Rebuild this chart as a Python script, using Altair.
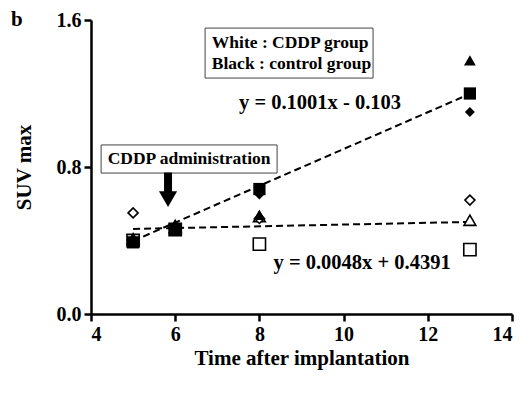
import altair as alt
import pandas as pd

# Data
days = [5, 6, 8, 13]
ctrl_square = [0.39, 0.46, 0.68, 1.20]
ctrl_triangle = [0.41, 0.49, 0.54, 1.38]
ctrl_diamond = [0.40, 0.47, 0.65, 1.10]
cddp_square = [0.40, 0.46, 0.38, 0.35]
cddp_triangle = [0.41, 0.47, 0.53, 0.51]
cddp_diamond = [0.55, 0.47, 0.52, 0.62]

fit_x = [5, 13]
fit_ctrl = [0.3975, 1.198]
fit_cddp = [0.463, 0.501]

x_ticks = [4, 6, 8, 10, 12, 14]
y_ticks = [0.0, 0.8, 1.6]

FONT = "Liberation Serif"

xs = alt.Scale(domain=[4, 14], nice=False)
ys = alt.Scale(domain=[0, 1.6], nice=False)

def pts(vals, shape):
    return pd.DataFrame({"x": days, "y": vals, "shape": shape})

X = alt.X("x:Q", scale=xs, axis=alt.Axis(values=x_ticks, format="d", title="Time after implantation", titlePadding=3))
Y = alt.Y("y:Q", scale=ys, axis=alt.Axis(values=y_ticks, format=".1f", title="SUV max", titlePadding=22))

layers = []
# fit lines
fit_df = pd.DataFrame({"x": fit_x * 2, "y": fit_ctrl + fit_cddp, "g": ["c"] * 2 + ["d"] * 2})
layers.append(alt.Chart(fit_df).mark_line(color="black", strokeWidth=2, strokeDash=[7, 4]).encode(x=X, y=Y, detail="g:N"))

shape_map = {"square": "square", "triangle": "triangle-up", "diamond": "diamond"}
sizes = {"square": 150, "triangle": 140, "diamond": 100}
for vals, sh in [(cddp_square, "square"), (cddp_triangle, "triangle"), (cddp_diamond, "diamond")]:
    layers.append(alt.Chart(pts(vals, sh)).mark_point(shape=shape_map[sh], size=sizes[sh], filled=True, fill="white", stroke="black", strokeWidth=1.6, opacity=1).encode(x=X, y=Y))
for vals, sh in [(ctrl_square, "square"), (ctrl_triangle, "triangle"), (ctrl_diamond, "diamond")]:
    layers.append(alt.Chart(pts(vals, sh)).mark_point(shape=shape_map[sh], size=sizes[sh], filled=True, color="black", opacity=1).encode(x=X, y=Y))

# annotation boxes
box_df = pd.DataFrame({"x": [6.71, 4.24], "x2": [10.70, 8.42], "y": [1.556, 0.92], "y2": [1.284, 0.767]})
layers.append(alt.Chart(box_df).mark_rect(fill="white", stroke="#444", strokeWidth=1).encode(x=alt.X("x:Q", scale=xs), x2="x2", y=alt.Y("y:Q", scale=ys), y2="y2"))

txt_left = pd.DataFrame({"x": [6.87, 6.87], "y": [1.475, 1.36], "t": ["White : CDDP group", "Black : control group"]})
layers.append(alt.Chart(txt_left).mark_text(align="left", baseline="middle", font=FONT, fontWeight="bold", fontSize=17.5, color="black").encode(x=alt.X("x:Q", scale=xs), y=alt.Y("y:Q", scale=ys), text="t"))

txt_a = pd.DataFrame({"x": [6.33], "y": [0.843], "t": ["CDDP administration"]})
layers.append(alt.Chart(txt_a).mark_text(align="center", baseline="middle", font=FONT, fontWeight="bold", fontSize=17.5, color="black").encode(x=alt.X("x:Q", scale=xs), y=alt.Y("y:Q", scale=ys), text="t"))

txt_eq = pd.DataFrame({"x": [9.44, 10.44], "y": [1.148, 0.278], "t": ["y = 0.1001x - 0.103", "y = 0.0048x + 0.4391"]})
layers.append(alt.Chart(txt_eq).mark_text(align="center", baseline="middle", font=FONT, fontWeight="bold", fontSize=20.5, color="black").encode(x=alt.X("x:Q", scale=xs), y=alt.Y("y:Q", scale=ys), text="t"))

# arrow
arrow_df = pd.DataFrame({"x": [5.83], "y": [0.77], "y2": [0.66]})
layers.append(alt.Chart(arrow_df).mark_rule(color="black", strokeWidth=8).encode(x=alt.X("x:Q", scale=xs), y=alt.Y("y:Q", scale=ys), y2="y2"))
head_df = pd.DataFrame({"x": [5.83], "y": [0.625]})
layers.append(alt.Chart(head_df).mark_point(shape="triangle-down", size=330, filled=True, color="black", opacity=1).encode(x=alt.X("x:Q", scale=xs), y=alt.Y("y:Q", scale=ys)))

# panel letter
b_df = pd.DataFrame({"x": [2.24], "y": [1.6], "t": ["b"]})
layers.append(alt.Chart(b_df).mark_text(align="center", baseline="middle", font=FONT, fontWeight="bold", fontSize=21, color="black").encode(x=alt.X("x:Q", scale=xs), y=alt.Y("y:Q", scale=ys), text="t"))

chart = alt.layer(*layers).properties(
    width=421, height=294,
    autosize=alt.AutoSizeParams(type="none"),
    padding={"left": 83, "top": 12, "right": 9, "bottom": 70},
).configure_view(strokeWidth=0).configure_axis(
    grid=False, domainColor="black", domainWidth=2.5, tickColor="black", tickWidth=2.5, tickSize=7,
    labelFont=FONT, labelFontWeight="bold", labelFontSize=20, labelColor="black", labelPadding=3,
    titleFont=FONT, titleFontWeight="bold", titleFontSize=21, titleColor="black",
)

chart.save("out.html", embed_options={"renderer": "svg", "actions": False})
